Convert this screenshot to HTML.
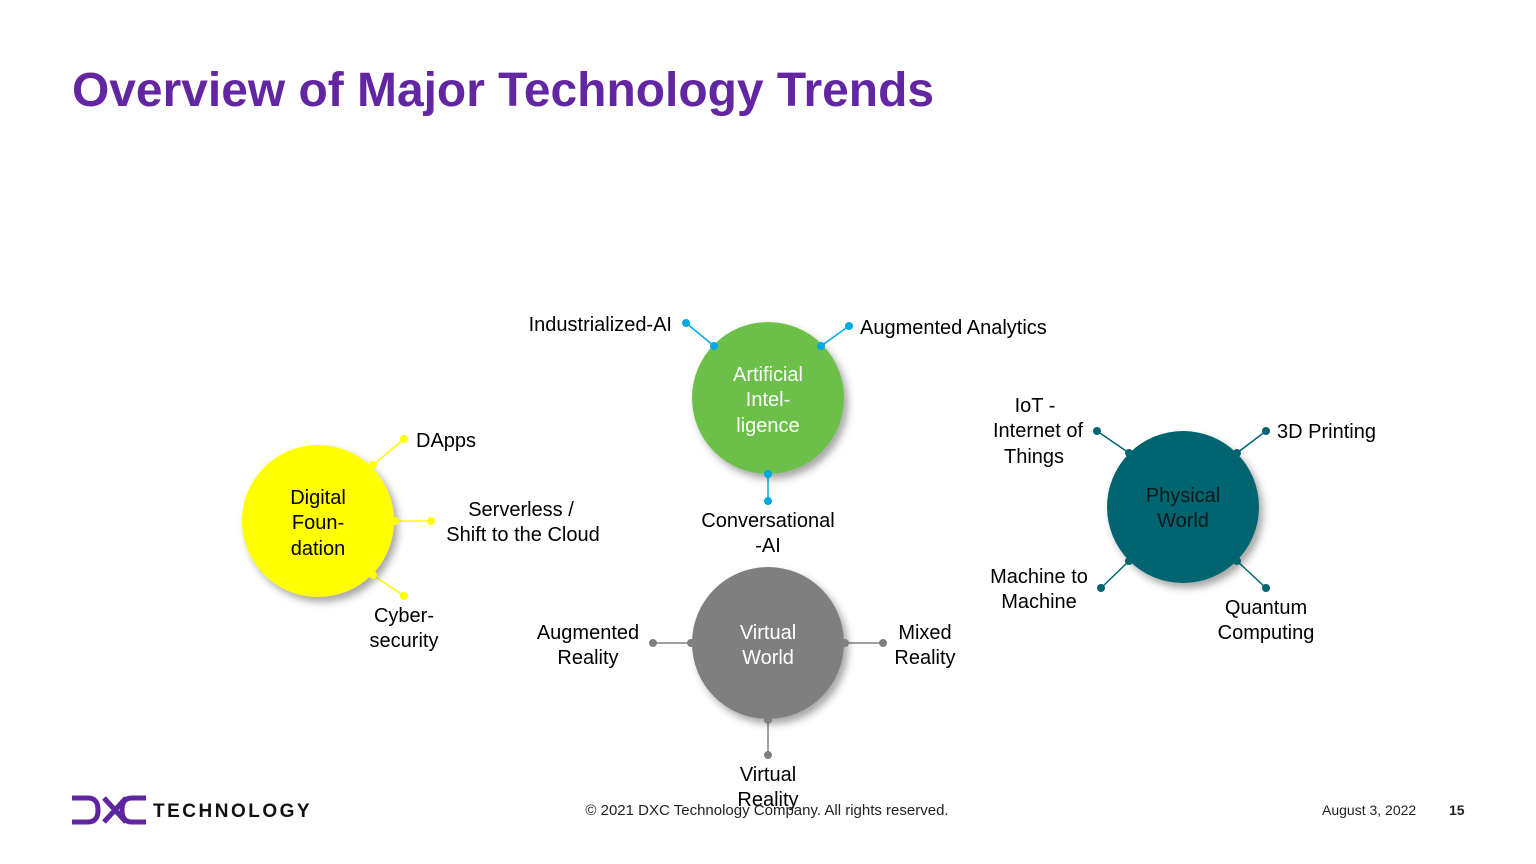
<!DOCTYPE html>
<html><head><meta charset="utf-8"><style>
html,body{margin:0;padding:0;background:#fff;}
svg{display:block;font-family:"Liberation Sans",Arial,sans-serif;}
</style></head><body>
<svg width="1536" height="864" viewBox="0 0 1536 864" xmlns="http://www.w3.org/2000/svg">
<defs>
<filter id="sh" x="-30%" y="-30%" width="160%" height="160%">
<feDropShadow dx="4" dy="5" stdDeviation="4" flood-color="#000" flood-opacity="0.35"/>
</filter>
</defs>
<text x="72" y="106" font-size="48" font-weight="bold" fill="#6226a3" textLength="862" lengthAdjust="spacingAndGlyphs">Overview of Major Technology Trends</text>

<!-- AI -->
<g stroke="#00a8e8" stroke-width="1.5" fill="#00a8e8">
<line x1="714" y1="346" x2="686" y2="323"/><line x1="821" y1="346" x2="849" y2="326"/><line x1="768" y1="474" x2="768" y2="501"/>
</g>
<circle cx="768" cy="398" r="76" fill="#6cbf4a" filter="url(#sh)"/>
<g fill="#00a8e8"><circle cx="714" cy="346" r="4"/><circle cx="686" cy="323" r="4"/><circle cx="821" cy="346" r="4"/><circle cx="849" cy="326" r="4"/><circle cx="768" cy="474" r="4"/><circle cx="768" cy="501" r="4"/></g>
<g fill="#fff" font-size="20" text-anchor="middle"><text x="768" y="381">Artificial</text><text x="768" y="406">Intel-</text><text x="768" y="432">ligence</text></g>

<!-- Digital -->
<g stroke="#ffff00" stroke-width="1.5">
<line x1="373" y1="465" x2="404" y2="439"/><line x1="395" y1="521" x2="431" y2="521"/><line x1="373" y1="575" x2="404" y2="596"/>
</g>
<circle cx="318" cy="521" r="76" fill="#ffff00" filter="url(#sh)"/>
<g fill="#ffff00"><circle cx="373" cy="465" r="4"/><circle cx="404" cy="439" r="4"/><circle cx="395" cy="521" r="4"/><circle cx="431" cy="521" r="4"/><circle cx="373" cy="575" r="4"/><circle cx="404" cy="596" r="4"/></g>
<g fill="#000" font-size="20" text-anchor="middle"><text x="318" y="504">Digital</text><text x="318" y="529">Foun-</text><text x="318" y="555">dation</text></g>

<!-- Physical -->
<g stroke="#006570" stroke-width="1.5">
<line x1="1129" y1="453" x2="1097" y2="431"/><line x1="1237" y1="453" x2="1266" y2="431"/><line x1="1129" y1="561" x2="1101" y2="588"/><line x1="1237" y1="561" x2="1266" y2="588"/>
</g>
<circle cx="1183" cy="507" r="76" fill="#006570" filter="url(#sh)"/>
<g fill="#006570"><circle cx="1129" cy="453" r="4"/><circle cx="1097" cy="431" r="4"/><circle cx="1237" cy="453" r="4"/><circle cx="1266" cy="431" r="4"/><circle cx="1129" cy="561" r="4"/><circle cx="1101" cy="588" r="4"/><circle cx="1237" cy="561" r="4"/><circle cx="1266" cy="588" r="4"/></g>
<g fill="#0a1a1c" font-size="20" text-anchor="middle"><text x="1183" y="502">Physical</text><text x="1183" y="527">World</text></g>

<!-- Virtual -->
<g stroke="#808080" stroke-width="1.5">
<line x1="691" y1="643" x2="653" y2="643"/><line x1="845" y1="643" x2="883" y2="643"/><line x1="768" y1="720" x2="768" y2="755"/>
</g>
<circle cx="768" cy="643" r="76" fill="#7f7f7f" filter="url(#sh)"/>
<g fill="#808080"><circle cx="691" cy="643" r="4"/><circle cx="653" cy="643" r="4"/><circle cx="845" cy="643" r="4"/><circle cx="883" cy="643" r="4"/><circle cx="768" cy="720" r="4"/><circle cx="768" cy="755" r="4"/></g>
<g fill="#fff" font-size="20" text-anchor="middle"><text x="768" y="639">Virtual</text><text x="768" y="664">World</text></g>

<!-- labels -->
<g fill="#000" font-size="20">
<text x="672" y="331" text-anchor="end">Industrialized-AI</text>
<text x="860" y="334">Augmented  Analytics</text>
<text x="768" y="527" text-anchor="middle">Conversational</text><text x="768" y="552" text-anchor="middle">-AI</text>
<text x="416" y="447">DApps</text>
<text x="521" y="516" text-anchor="middle">Serverless /</text><text x="523" y="541" text-anchor="middle">Shift to the Cloud</text>
<text x="404" y="622" text-anchor="middle">Cyber-</text><text x="404" y="647" text-anchor="middle">security</text>
<text x="1035" y="412" text-anchor="middle">IoT -</text><text x="1038" y="437" text-anchor="middle">Internet of</text><text x="1034" y="463" text-anchor="middle">Things</text>
<text x="1277" y="438">3D Printing</text>
<text x="1039" y="583" text-anchor="middle">Machine to</text><text x="1039" y="608" text-anchor="middle">Machine</text>
<text x="1266" y="614" text-anchor="middle">Quantum</text><text x="1266" y="639" text-anchor="middle">Computing</text>
<text x="588" y="639" text-anchor="middle">Augmented</text><text x="588" y="664" text-anchor="middle">Reality</text>
<text x="925" y="639" text-anchor="middle">Mixed</text><text x="925" y="664" text-anchor="middle">Reality</text>
<text x="768" y="781" text-anchor="middle">Virtual</text><text x="768" y="806" text-anchor="middle">Reality</text>
</g>

<!-- footer -->
<g stroke="#5f259f" stroke-width="5" fill="none">
<path d="M72 798 H88 Q98 798 98 810 Q98 822 88 822 H72"/>
<path d="M104 798 L126 822 M126 798 L104 822"/>
<path d="M146 798 H132 Q122 798 122 810 Q122 822 132 822 H146" />
</g>
<text x="153" y="817" font-size="19" font-weight="bold" fill="#111" letter-spacing="2.5">TECHNOLOGY</text>
<text x="767" y="815" font-size="15" fill="#222" text-anchor="middle">© 2021 DXC Technology Company. All rights reserved.</text>
<text x="1322" y="815" font-size="14" fill="#222">August 3, 2022</text>
<text x="1449" y="815" font-size="14" font-weight="bold" fill="#222">15</text>
</svg>
</body></html>
